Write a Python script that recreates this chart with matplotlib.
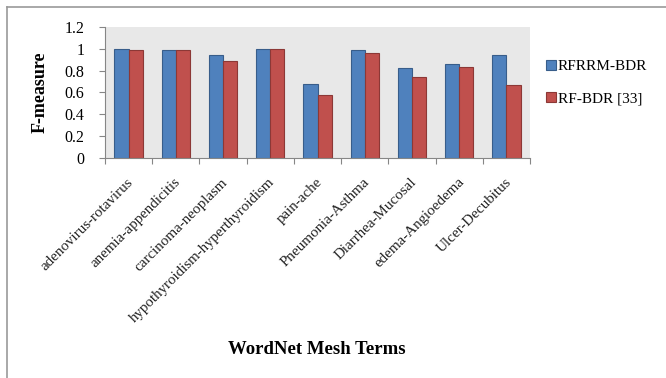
import numpy as np
import matplotlib
matplotlib.use("Agg")
import matplotlib.pyplot as plt
from matplotlib.patches import Rectangle
from matplotlib.lines import Line2D

plt.rcParams["font.family"] = ["Liberation Serif", "DejaVu Serif"]

# ── Data ─────────────────────────────────────────────────────────────────────
terms = ["adenovirus-rotavirus", "anemia-appendicitis", "carcinoma-neoplasm",
         "hypothyroidism-hyperthyroidism", "pain-ache", "Pneumonia-Asthma",
         "Diarrhea-Mucosal", "edema-Angioedema", "Ulcer-Decubitus"]
rfrrm_bdr = [1.00, 0.99, 0.94, 1.00, 0.68, 0.99, 0.82, 0.86, 0.94]
rf_bdr    = [0.99, 0.99, 0.89, 1.00, 0.58, 0.965, 0.745, 0.835, 0.67]

BLUE, BLUE_EDGE = "#4F81BD", "#385D8A"
RED, RED_EDGE = "#C0504D", "#8C3836"
AXIS_GRAY = "#868686"

fig = plt.figure(figsize=(6.66, 3.78), dpi=100, facecolor="white")
ax = fig.add_axes([105 / 666, 1 - 158 / 378, 425 / 666, 131 / 378])
ax.set_facecolor("#E8E8E8")

x = np.arange(len(terms))
w = 0.3
ax.bar(x - w / 2, rfrrm_bdr, w, color=BLUE, edgecolor=BLUE_EDGE, linewidth=0.8,
       label="RFRRM-BDR", zorder=2)
ax.bar(x + w / 2, rf_bdr, w, color=RED, edgecolor=RED_EDGE, linewidth=0.8,
       label="RF-BDR [33]", zorder=2)

ax.set_xlim(-0.5, len(terms) - 0.5)
ax.set_ylim(0, 1.2)
ax.set_yticks(np.arange(0, 1.21, 0.2))
ax.set_yticklabels(["0", "0.2", "0.4", "0.6", "0.8", "1", "1.2"], fontsize=11.5)

# category ticks sit on the boundaries between groups
ax.set_xticks(np.arange(-0.5, len(terms), 1.0))
ax.set_xticklabels([])
ax.tick_params(axis="x", direction="out", length=4, color=AXIS_GRAY)
ax.tick_params(axis="y", direction="out", length=4, color=AXIS_GRAY, pad=11)
for i, t in enumerate(terms):
    ax.annotate(t, xy=(i, 0), xycoords=("data", "axes fraction"),
                xytext=(2, -16), textcoords="offset points",
                rotation=45, rotation_mode="anchor", ha="right", va="center",
                fontsize=10.8, color="#222222")

for side in ("top", "right"):
    ax.spines[side].set_visible(False)
ax.spines["left"].set_color(AXIS_GRAY)
ax.spines["bottom"].set_color(AXIS_GRAY)

ax.set_ylabel("F-measure", fontsize=13, fontweight="bold")
ax.yaxis.set_label_coords(-(105 - 49) / 425, 0.5)
fig.text(317 / 666, 1 - 350 / 378, "WordNet Mesh Terms", ha="center",
         va="center", fontsize=13.5, fontweight="bold")

handles = [Rectangle((0, 0), 1, 1, fc=BLUE, ec=BLUE_EDGE, lw=0.8),
           Rectangle((0, 0), 1, 1, fc=RED, ec=RED_EDGE, lw=0.8)]
fig.legend(handles, ["RFRRM-BDR", "RF-BDR [33]"], loc="upper left",
           bbox_to_anchor=(532 / 666, 1 - 46 / 378), frameon=False,
           fontsize=11, handlelength=0.7, handleheight=0.7, handletextpad=0.1,
           labelspacing=1.2)

# outer frame: only top and left edges
fig.add_artist(Line2D([7 / 666, 1], [1 - 7 / 378] * 2, color="#9A9A9A", lw=1.2))
fig.add_artist(Line2D([7 / 666] * 2, [0, 1 - 7 / 378], color="#9A9A9A", lw=1.2))

fig.savefig("out.png", dpi=100, facecolor="white")
